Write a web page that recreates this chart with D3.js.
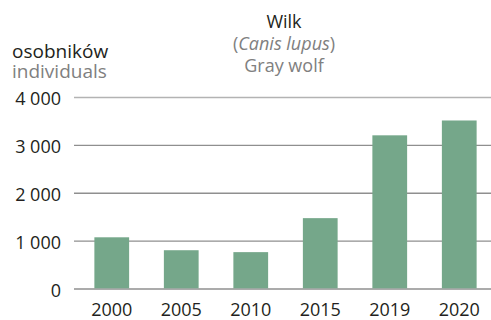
<!DOCTYPE html>
<html>
<head>
<meta charset="utf-8">
<script src="https://cdn.jsdelivr.net/npm/d3@7"></script>
<style>
  html, body { margin: 0; padding: 0; background: #fff; }
  svg { display: block; font-family: "Open Sans", "Noto Sans", sans-serif; }
</style>
</head>
<body>
<svg id="chart" width="491" height="320"></svg>
<script>
// Wolf population in Poland, selected years
const years = ["2000", "2005", "2010", "2015", "2019", "2020"];
const counts = [1080, 810, 770, 1480, 3210, 3520];
const yTicks = [0, 1000, 2000, 3000, 4000];

const titleLines = ["Wilk", "Gray wolf"];
const latinName = "Canis lupus";
const unitPl = "osobników";
const unitEn = "individuals";

const svg = d3.select("#chart");
const W = 491;
const dark = "#231f20";
const grey = "#808080";

const x = d3.scaleBand()
  .domain(years)
  .range([77, 494])
  .paddingInner(0.5)
  .paddingOuter(0.25);

const y = d3.scaleLinear()
  .domain([0, 4000])
  .range([289, 97.5]);

const fmt = v => d3.format(",")(v).replace(/,/g, " ");

// Gridlines
svg.append("g")
  .selectAll("line")
  .data(yTicks)
  .join("line")
  .attr("x1", 74)
  .attr("x2", W)
  .attr("y1", d => y(d))
  .attr("y2", d => y(d))
  .attr("stroke", d => d === 4000 ? "#b3b3b3" : "#8f8f8f")
  .attr("stroke-width", 1.4);

// Bars
svg.append("g")
  .selectAll("rect")
  .data(years.map((yr, i) => ({ yr, v: counts[i] })))
  .join("rect")
  .attr("x", d => x(d.yr))
  .attr("width", x.bandwidth())
  .attr("y", d => y(d.v))
  .attr("height", d => y(0) - y(d.v) - 0.7)
  .attr("fill", "#75a78a");

// Y axis labels
const gy = svg.append("g")
  .attr("transform", "translate(61,0)")
  .call(d3.axisLeft(y).tickValues(yTicks).tickFormat(fmt).tickSize(0).tickPadding(0));
gy.select(".domain").remove();
gy.selectAll("text")
  .attr("font-size", 18)
  .attr("font-family", "\"Open Sans\", sans-serif")
  .attr("fill", dark)
  .attr("dy", "0.4em");

// X axis labels
const gx = svg.append("g")
  .attr("transform", "translate(0,316)")
  .call(d3.axisBottom(x).tickSize(0).tickPadding(0));
gx.select(".domain").remove();
gx.selectAll("text")
  .attr("font-size", 18)
  .attr("font-family", "\"Open Sans\", sans-serif")
  .attr("fill", dark)
  .attr("dy", 0)
  .attr("y", 0);

// Unit labels
svg.append("text")
  .attr("x", 12).attr("y", 57.5)
  .attr("font-size", 19)
  .attr("fill", dark)
  .text(unitPl);
svg.append("text")
  .attr("x", 12).attr("y", 78)
  .attr("font-size", 19)
  .attr("fill", grey)
  .text(unitEn);

// Title
const cx = 284;
svg.append("text")
  .attr("x", cx).attr("y", 28)
  .attr("text-anchor", "middle")
  .attr("font-size", 18)
  .attr("fill", dark)
  .text(titleLines[0]);
const latin = svg.append("text")
  .attr("x", cx).attr("y", 50)
  .attr("text-anchor", "middle")
  .attr("font-size", 18)
  .attr("fill", grey);
latin.append("tspan").text("(");
latin.append("tspan").attr("font-style", "italic").text(latinName);
latin.append("tspan").text(")");
svg.append("text")
  .attr("x", cx).attr("y", 72)
  .attr("text-anchor", "middle")
  .attr("font-size", 18)
  .attr("fill", grey)
  .text(titleLines[1]);
</script>
</body>
</html>
